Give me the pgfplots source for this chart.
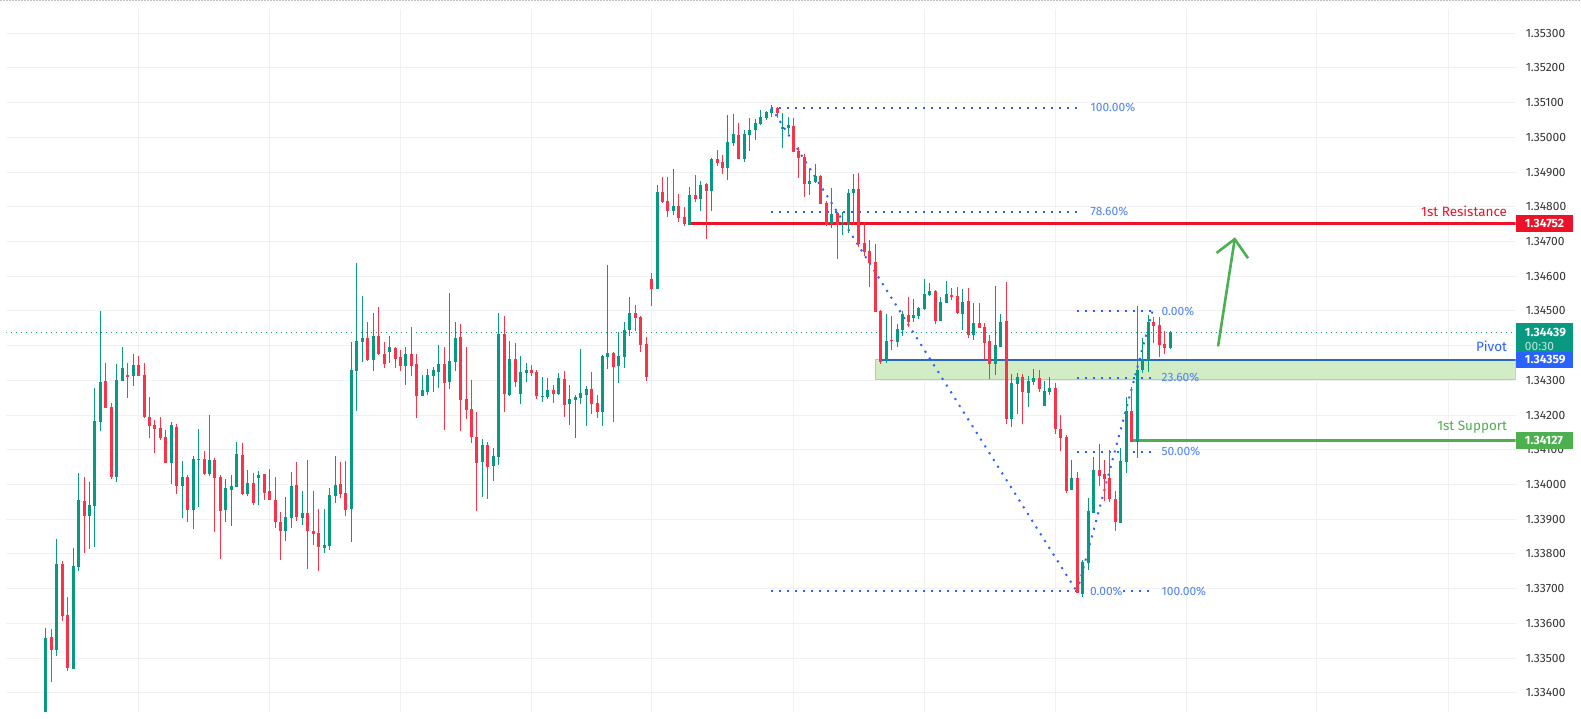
\documentclass[border=0pt]{standalone}
\usepackage{pgfplots}
\usepackage{pgfplotstable}
\usepackage{fontspec}
\setmainfont{Fira Sans}
\pgfplotsset{compat=1.18}
\definecolor{up}{HTML}{089981}
\definecolor{down}{HTML}{F7344A}
\definecolor{fib}{HTML}{2962FF}
\definecolor{fibtxt}{HTML}{4D82F5}
\definecolor{res}{HTML}{EE1228}
\definecolor{piv}{HTML}{2B68C0}
\definecolor{sup}{HTML}{4CAF50}
\definecolor{zone}{HTML}{D2EDC6}
\definecolor{zonee}{HTML}{A8D88F}
\definecolor{gridc}{HTML}{F0F1F4}
\pgfplotstableread{
x o h l c
45.3 1.33265 1.33588 1.33265 1.33559
51.3 1.33562 1.33585 1.33432 1.33524
56.3 1.33524 1.33844 1.33505 1.33772
62.3 1.33772 1.33780 1.33608 1.33622
67.3 1.33625 1.33677 1.33464 1.33472
73.3 1.33470 1.33818 1.33470 1.33766
78.3 1.33763 1.34034 1.33752 1.33956
84.3 1.33953 1.34022 1.33804 1.33910
89.3 1.33910 1.34008 1.33815 1.33942
94.3 1.33939 1.34279 1.33821 1.34184
100.3 1.34181 1.34500 1.34155 1.34296
105.3 1.34299 1.34351 1.34221 1.34221
111.3 1.34224 1.34236 1.34017 1.34022
116.3 1.34022 1.34348 1.34008 1.34302
122.3 1.34299 1.34397 1.34299 1.34336
127.3 1.34316 1.34351 1.34250 1.34310
133.3 1.34313 1.34377 1.34285 1.34345
138.3 1.34345 1.34371 1.34313 1.34313
144.3 1.34316 1.34351 1.34192 1.34195
149.3 1.34195 1.34253 1.34135 1.34169
154.3 1.34172 1.34187 1.34092 1.34161
160.3 1.34164 1.34195 1.34129 1.34135
165.3 1.34138 1.34158 1.34063 1.34063
171.3 1.34063 1.34181 1.34002 1.34172
176.3 1.34166 1.34175 1.33973 1.33996
182.3 1.33996 1.34068 1.33904 1.34022
187.3 1.34022 1.34028 1.33893 1.33927
193.3 1.33927 1.34083 1.33873 1.34074
198.3 1.34071 1.34161 1.33936 1.34074
204.3 1.34074 1.34097 1.34028 1.34031
209.3 1.34031 1.34201 1.34025 1.34071
214.3 1.34071 1.34077 1.33864 1.34020
220.3 1.34022 1.34028 1.33786 1.33924
225.3 1.33927 1.34017 1.33893 1.33991
231.3 1.33985 1.34028 1.33881 1.33996
236.3 1.33994 1.34123 1.33994 1.34089
242.3 1.34086 1.34120 1.33971 1.33973
247.3 1.33973 1.34043 1.33968 1.34005
253.3 1.34005 1.34034 1.33942 1.33948
258.3 1.34020 1.34040 1.33942 1.34028
264.3 1.34031 1.34031 1.33956 1.33976
269.3 1.33982 1.34045 1.33956 1.33956
275.3 1.33956 1.34022 1.33876 1.33893
280.3 1.33893 1.33922 1.33783 1.33867
285.3 1.33867 1.33965 1.33838 1.33907
291.3 1.33904 1.34037 1.33876 1.33996
296.3 1.33999 1.34066 1.33896 1.33907
302.3 1.33904 1.33982 1.33884 1.33919
307.3 1.33919 1.34071 1.33757 1.33867
313.3 1.33867 1.33982 1.33827 1.33858
318.3 1.33861 1.33930 1.33752 1.33821
324.3 1.33818 1.33930 1.33804 1.33827
329.3 1.33824 1.33991 1.33812 1.33971
335.3 1.33968 1.34083 1.33948 1.33999
340.3 1.34002 1.34066 1.33962 1.33973
345.3 1.33976 1.34068 1.33910 1.33927
351.3 1.33930 1.34411 1.33835 1.34331
356.3 1.34328 1.34639 1.34213 1.34414
362.3 1.34411 1.34544 1.34354 1.34423
367.3 1.34423 1.34469 1.34356 1.34359
373.3 1.34359 1.34495 1.34328 1.34428
378.3 1.34428 1.34512 1.34374 1.34377
384.3 1.34377 1.34411 1.34336 1.34348
389.3 1.34382 1.34428 1.34351 1.34397
395.3 1.34394 1.34397 1.34336 1.34362
400.3 1.34368 1.34388 1.34328 1.34342
405.3 1.34342 1.34397 1.34287 1.34377
411.3 1.34377 1.34454 1.34313 1.34342
416.3 1.34348 1.34377 1.34192 1.34256
422.3 1.34256 1.34316 1.34256 1.34273
427.3 1.34267 1.34333 1.34259 1.34316
433.3 1.34313 1.34339 1.34267 1.34331
438.3 1.34325 1.34403 1.34279 1.34348
444.3 1.34348 1.34397 1.34158 1.34293
449.3 1.34296 1.34552 1.34276 1.34356
455.3 1.34354 1.34469 1.34328 1.34423
460.3 1.34426 1.34463 1.34155 1.34244
466.3 1.34247 1.34397 1.34189 1.34215
471.3 1.34218 1.34302 1.34120 1.34138
476.3 1.34138 1.34210 1.33924 1.34063
482.3 1.34066 1.34132 1.33965 1.34115
487.3 1.34115 1.34123 1.33959 1.34051
493.3 1.34054 1.34106 1.34011 1.34083
498.3 1.34080 1.34495 1.34057 1.34434
504.3 1.34434 1.34486 1.34210 1.34261
509.3 1.34259 1.34414 1.34256 1.34362
515.3 1.34362 1.34408 1.34282 1.34296
520.3 1.34261 1.34371 1.34233 1.34325
526.3 1.34322 1.34351 1.34296 1.34331
531.3 1.34331 1.34345 1.34313 1.34322
536.3 1.34325 1.34331 1.34247 1.34256
542.3 1.34253 1.34310 1.34238 1.34256
547.3 1.34253 1.34308 1.34247 1.34273
553.3 1.34273 1.34287 1.34236 1.34261
558.3 1.34261 1.34322 1.34259 1.34308
564.3 1.34305 1.34328 1.34195 1.34230
569.3 1.34233 1.34287 1.34172 1.34247
575.3 1.34244 1.34259 1.34135 1.34253
580.3 1.34250 1.34391 1.34233 1.34264
586.3 1.34259 1.34285 1.34169 1.34276
591.3 1.34276 1.34325 1.34204 1.34232
597.3 1.34236 1.34259 1.34192 1.34210
602.3 1.34210 1.34374 1.34169 1.34371
607.3 1.34368 1.34633 1.34333 1.34380
613.3 1.34380 1.34382 1.34181 1.34339
618.3 1.34342 1.34440 1.34293 1.34371
624.3 1.34368 1.34469 1.34336 1.34446
629.3 1.34446 1.34541 1.34428 1.34495
635.3 1.34495 1.34518 1.34443 1.34480
640.3 1.34483 1.34486 1.34382 1.34403
646.3 1.34405 1.34426 1.34299 1.34310
651.3 1.34593 1.34610 1.34515 1.34564
657.3 1.34564 1.34863 1.34564 1.34843
662.3 1.34843 1.34886 1.34812 1.34814
667.3 1.34817 1.34886 1.34771 1.34788
673.3 1.34788 1.34909 1.34777 1.34803
678.3 1.34803 1.34837 1.34757 1.34768
684.3 1.34771 1.34800 1.34745 1.34751
689.3 1.34748 1.34858 1.34748 1.34835
695.3 1.34835 1.34892 1.34814 1.34823
700.3 1.34823 1.34875 1.34788 1.34863
706.3 1.34866 1.34869 1.34708 1.34846
711.3 1.34846 1.34941 1.34788 1.34938
717.3 1.34938 1.34964 1.34918 1.34927
722.3 1.34930 1.34950 1.34895 1.34912
727.3 1.34912 1.35065 1.34878 1.34987
733.3 1.34984 1.35068 1.34976 1.35010
738.3 1.35007 1.35042 1.34938 1.34938
744.3 1.34938 1.35022 1.34930 1.35010
749.3 1.35007 1.35056 1.34961 1.35022
755.3 1.35022 1.35053 1.34993 1.35042
760.3 1.35039 1.35079 1.35036 1.35059
766.3 1.35056 1.35077 1.35051 1.35074
771.3 1.35071 1.35094 1.35059 1.35082
777.3 1.35085 1.35088 1.35056 1.35071
782.3 1.35025 1.35071 1.34970 1.35030
788.3 1.35028 1.35059 1.35010 1.35036
793.3 1.35033 1.35056 1.34958 1.34958
798.3 1.34961 1.34973 1.34884 1.34941
804.3 1.34944 1.34953 1.34829 1.34866
809.3 1.34866 1.34909 1.34835 1.34875
815.3 1.34872 1.34924 1.34869 1.34889
820.3 1.34889 1.34892 1.34809 1.34809
826.3 1.34812 1.34817 1.34745 1.34748
831.3 1.34751 1.34855 1.34740 1.34780
837.3 1.34783 1.34786 1.34650 1.34748
842.3 1.34754 1.34786 1.34719 1.34757
848.3 1.34748 1.34852 1.34725 1.34840
853.3 1.34840 1.34895 1.34748 1.34852
858.3 1.34852 1.34898 1.34685 1.34694
864.3 1.34696 1.34754 1.34659 1.34670
869.3 1.34673 1.34705 1.34570 1.34639
875.3 1.34642 1.34694 1.34498 1.34498
880.3 1.34500 1.34503 1.34348 1.34354
886.3 1.34359 1.34492 1.34351 1.34414
891.3 1.34417 1.34486 1.34388 1.34414
897.3 1.34411 1.34463 1.34397 1.34449
902.3 1.34445 1.34500 1.34428 1.34491
908.3 1.34489 1.34540 1.34454 1.34468
913.3 1.34480 1.34535 1.34468 1.34489
918.3 1.34486 1.34512 1.34477 1.34509
924.3 1.34506 1.34592 1.34503 1.34549
929.3 1.34546 1.34581 1.34543 1.34558
935.3 1.34558 1.34561 1.34463 1.34471
940.3 1.34471 1.34540 1.34471 1.34526
946.3 1.34523 1.34587 1.34523 1.34549
951.3 1.34546 1.34566 1.34532 1.34540
957.3 1.34543 1.34569 1.34491 1.34494
962.3 1.34491 1.34563 1.34445 1.34526
968.3 1.34529 1.34566 1.34422 1.34431
973.3 1.34431 1.34523 1.34417 1.34466
979.3 1.34466 1.34523 1.34451 1.34451
984.3 1.34454 1.34466 1.34362 1.34408
989.3 1.34414 1.34431 1.34304 1.34348
995.3 1.34348 1.34572 1.34316 1.34402
1000.3 1.34396 1.34491 1.34396 1.34468
1006.3 1.34471 1.34584 1.34175 1.34189
1011.3 1.34189 1.34319 1.34166 1.34293
1017.3 1.34290 1.34322 1.34203 1.34310
1022.3 1.34310 1.34319 1.34175 1.34267
1028.3 1.34264 1.34313 1.34224 1.34298
1033.3 1.34296 1.34333 1.34287 1.34307
1039.3 1.34307 1.34330 1.34267 1.34275
1044.3 1.34226 1.34298 1.34226 1.34270
1049.3 1.34267 1.34310 1.34258 1.34278
1055.3 1.34278 1.34293 1.34146 1.34160
1060.3 1.34161 1.34201 1.34097 1.34135
1066.3 1.34138 1.34143 1.33976 1.33982
1071.3 1.33985 1.34071 1.33985 1.34020
1077.3 1.34020 1.34037 1.33688 1.33688
1082.3 1.33686 1.33783 1.33677 1.33778
1088.3 1.33775 1.33962 1.33755 1.33925
1093.3 1.33919 1.34080 1.33919 1.34043
1099.3 1.34043 1.34118 1.33997 1.34025
1104.3 1.34031 1.34071 1.33953 1.34017
1109.3 1.34020 1.34100 1.33950 1.33959
1115.3 1.33959 1.33982 1.33867 1.33893
1120.3 1.33890 1.34106 1.33890 1.34069
1126.3 1.34066 1.34253 1.34034 1.34213
1131.3 1.34213 1.34282 1.34123 1.34123
1137.3 1.34123 1.34515 1.34077 1.34331
1142.3 1.34331 1.34423 1.34322 1.34362
1148.3 1.34359 1.34489 1.34325 1.34469
1153.3 1.34469 1.34483 1.34408 1.34457
1159.3 1.34460 1.34483 1.34368 1.34403
1164.3 1.34405 1.34443 1.34377 1.34394
1170.3 1.34394 1.34443 1.34391 1.34440
}\candles
\begin{document}
\begin{tikzpicture}[x=1pt,y=1pt]
\path (0pt,0pt) rectangle (1581pt,712pt);
\draw[line width=1pt,color=black!25,dash pattern=on 2pt off 1pt] (0pt,711.5pt) -- (1581pt,711.5pt);
\begin{axis}[
  at={(6pt,0pt)}, anchor=south west,
  scale only axis, width=1510pt, height=703pt,
  xmin=6, xmax=1516, ymin=1.33346, ymax=1.35370,
  clip mode=individual,
  axis line style={draw=none},
  tick style={draw=none},
  grid=major,
  grid style={color=gridc,line width=1pt},
  xtick={138.3,269.3,400.3,531.3,651.3,793.3,924.3,1055.3,1186.3,1317.3,1448.7},
  xticklabel=\empty,
  ytick={1.334,1.335,1.336,1.337,1.338,1.339,1.340,1.341,1.342,1.343,1.345,1.346,1.347,1.348,1.349,1.350,1.351,1.352,1.353},
  extra y ticks={1.344},
  extra y tick labels={},
  extra y tick style={grid=major},
  scaled y ticks=false,
  yticklabel pos=right,
  yticklabel style={anchor=west,inner sep=0pt,xshift=10pt,text=black!80,font=\fontsize{12}{14}\selectfont,
    /pgf/number format/fixed,/pgf/number format/fixed zerofill,/pgf/number format/precision=5,/pgf/number format/assume math mode=true},
]
% zone
\addplot[fill=zone,draw=zonee,line width=1pt,forget plot] coordinates {(875.3,1.34359)(1516,1.34359)(1516,1.34303)(875.3,1.34303)} -- cycle;
% last price
\addplot[color=up,line width=1pt,dash pattern=on 1pt off 4pt,forget plot] coordinates {(6,1.34439)(1516,1.34439)};
% fib lines
\addplot[color=fib,line width=2pt,dash pattern=on 2pt off 6pt,forget plot] coordinates {(771.3,1.35086)(1077,1.35086)};
\addplot[color=fib,line width=2pt,dash pattern=on 2pt off 6pt,forget plot] coordinates {(771.3,1.34786)(1077,1.34786)};
\addplot[color=fib,line width=2pt,dash pattern=on 2pt off 6pt,forget plot] coordinates {(771.3,1.33692)(1077,1.33692)};
\addplot[color=fib,line width=2pt,dash pattern=on 2pt off 6pt,forget plot] coordinates {(771.3,1.35086)(1077,1.33692)};
\addplot[color=fib,line width=2pt,dash pattern=on 2pt off 6pt,forget plot] coordinates {(1077.3,1.34499)(1152.7,1.34499)};
\addplot[color=fib,line width=2pt,dash pattern=on 2pt off 6pt,forget plot] coordinates {(1077.3,1.34308)(1152.7,1.34308)};
\addplot[color=fib,line width=2pt,dash pattern=on 2pt off 6pt,forget plot] coordinates {(1077.3,1.34094)(1152.7,1.34094)};
\addplot[color=fib,line width=2pt,dash pattern=on 2pt off 6pt,forget plot] coordinates {(1123,1.33692)(1152.7,1.33692)};
\addplot[color=fib,line width=2pt,dash pattern=on 2pt off 6pt,forget plot] coordinates {(1077.3,1.33692)(1152.7,1.34499)};
% levels
\addplot[color=res,line width=2.6pt,forget plot] coordinates {(690,1.34752)(1516,1.34752)};
\addplot[color=piv,line width=2.6pt,forget plot] coordinates {(880,1.34359)(1516,1.34359)};
\addplot[color=sup,line width=2.6pt,forget plot] coordinates {(1130,1.34127)(1516,1.34127)};
% arrow
\addplot[color=sup,line width=2.6pt,forget plot] coordinates {(1218.3,1.34398)(1235,1.34707)};
\addplot[color=sup,line width=2.6pt,forget plot] coordinates {(1216.7,1.34667)(1235,1.34707)(1248.3,1.34652)};
% candles: wicks then bodies
\addplot[no markers,draw=none,forget plot,restrict expr to domain={\thisrow{c}-\thisrow{o}}{0:1},
  error bars/.cd,y dir=both,y explicit,error mark=none,error bar style={draw=up,solid,line width=1pt}]
  table[x=x,y=o,y error plus expr=\thisrow{h}-\thisrow{o},y error minus expr=\thisrow{o}-\thisrow{l}] {\candles};
\addplot[no markers,draw=none,forget plot,restrict expr to domain={\thisrow{c}-\thisrow{o}}{0:1},
  error bars/.cd,y dir=plus,y explicit,error mark=none,error bar style={draw=up,solid,line width=3pt}]
  table[x=x,y=o,y error plus expr=\thisrow{c}-\thisrow{o}] {\candles};
\addplot[no markers,draw=none,forget plot,restrict expr to domain={\thisrow{c}-\thisrow{o}}{-1:-0.0000001},
  error bars/.cd,y dir=both,y explicit,error mark=none,error bar style={draw=down,solid,line width=1pt}]
  table[x=x,y=o,y error plus expr=\thisrow{h}-\thisrow{o},y error minus expr=\thisrow{o}-\thisrow{l}] {\candles};
\addplot[no markers,draw=none,forget plot,restrict expr to domain={\thisrow{c}-\thisrow{o}}{-1:-0.0000001},
  error bars/.cd,y dir=minus,y explicit,error mark=none,error bar style={draw=down,solid,line width=3pt}]
  table[x=x,y=o,y error minus expr=\thisrow{o}-\thisrow{c}] {\candles};
% fib labels
\begin{scope}[every node/.style={anchor=west,inner sep=0pt,text=fibtxt,font=\fontsize{12}{14}\selectfont}]
\node at (axis cs:1090.7,1.35086) {100.00\%};
\node at (axis cs:1090.7,1.34786) {78.60\%};
\node at (axis cs:1090,1.33692) {0.00\%};
\node at (axis cs:1161.7,1.33692) {100.00\%};
\node at (axis cs:1161.7,1.34499) {0.00\%};
\node at (axis cs:1161.7,1.34308) {23.60\%};
\node at (axis cs:1161.7,1.34094) {50.00\%};
\end{scope}
\begin{scope}[every node/.style={anchor=east,inner sep=0pt,font=\fontsize{13.5}{15}\selectfont}]
\node[text=res] at (axis cs:1507.7,1.34786) {1st Resistance};
\node[text=fib] at (axis cs:1507.7,1.34397) {Pivot};
\node[text=sup] at (axis cs:1507.7,1.34164) {1st Support};
\end{scope}
\coordinate (tagR) at (axis cs:1516.7,1.34752);
\coordinate (tagP) at (axis cs:1516.7,1.34359);
\coordinate (tagS) at (axis cs:1516.7,1.34127);
\coordinate (tagC) at (axis cs:1516.7,1.34439);
\end{axis}
\begin{scope}[every node/.style={anchor=west,text=white,inner sep=0pt,font=\fontsize{12}{14}\selectfont\bfseries}]
\fill[res] ([yshift=8.35pt]tagR) rectangle ++(56.3pt,-16.7pt);
\node at ([xshift=8.5pt]tagR) {1.34752};
\fill[up] ([yshift=8.7pt]tagC) rectangle ++(56.3pt,-31pt);
\node at ([xshift=8.5pt]tagC) {1.34439};
\node[text=white!75!up,font=\fontsize{12}{14}\selectfont] at ([xshift=8.5pt,yshift=-14pt]tagC) {00:30};
\fill[fib] ([yshift=8.35pt]tagP) rectangle ++(56.3pt,-16.7pt);
\node at ([xshift=8.5pt]tagP) {1.34359};
\fill[sup] ([yshift=8.35pt]tagS) rectangle ++(56.3pt,-16.7pt);
\node at ([xshift=8.5pt]tagS) {1.34127};
\end{scope}
\end{tikzpicture}
\end{document}
